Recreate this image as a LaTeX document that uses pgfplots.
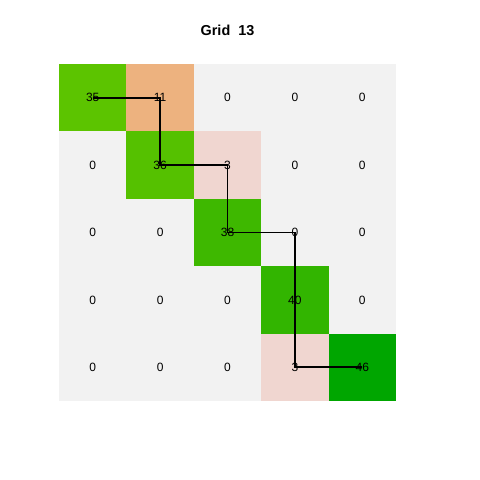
\documentclass[border=0pt]{standalone}
\usepackage{pgfplots}
\pgfplotsset{compat=1.18}
\usepackage{fontspec}
\setmainfont{Liberation Sans}
\definecolor{cz}{HTML}{F2F2F2}
\definecolor{ca}{HTML}{5CC400}
\definecolor{cb}{HTML}{EDB27F}
\definecolor{cc}{HTML}{55C100}
\definecolor{cd}{HTML}{F0D6D0}
\definecolor{ce}{HTML}{3EB800}
\definecolor{cf}{HTML}{32B500}
\definecolor{cg}{HTML}{00A600}
\begin{document}
\begin{tikzpicture}
\begin{axis}[width=480bp,height=480bp,scale only axis,hide axis,
  xmin=0,xmax=480,ymin=0,ymax=480,y dir=reverse,clip=false]
\path[fill=white] (axis cs:0,0) rectangle (axis cs:480,480);
% background (zero cells)
\addplot[fill=cz,draw=none] coordinates {(59,64) (396,64) (396,401) (59,401)} -- cycle;
% nonzero cells
\addplot[fill=ca,draw=none] coordinates {(59,64) (126.4,64) (126.4,131.4) (59,131.4)} -- cycle;
\addplot[fill=cb,draw=none] coordinates {(126.4,64) (193.8,64) (193.8,131.4) (126.4,131.4)} -- cycle;
\addplot[fill=cc,draw=none] coordinates {(126.4,131.4) (193.8,131.4) (193.8,198.8) (126.4,198.8)} -- cycle;
\addplot[fill=cd,draw=none] coordinates {(193.8,131.4) (261.2,131.4) (261.2,198.8) (193.8,198.8)} -- cycle;
\addplot[fill=ce,draw=none] coordinates {(193.8,198.8) (261.2,198.8) (261.2,266.2) (193.8,266.2)} -- cycle;
\addplot[fill=cf,draw=none] coordinates {(261.2,266.2) (328.6,266.2) (328.6,333.6) (261.2,333.6)} -- cycle;
\addplot[fill=cd,draw=none] coordinates {(261.2,333.6) (328.6,333.6) (328.6,401) (261.2,401)} -- cycle;
\addplot[fill=cg,draw=none] coordinates {(328.6,333.6) (396,333.6) (396,401) (328.6,401)} -- cycle;
% path
\addplot[black,line width=1.8bp] coordinates {(92.7,97.7) (160.1,97.7) (160.1,165.1) (227.5,165.1) (227.5,232.5) (294.9,232.5) (294.9,367.3) (362.3,367.3)};
% labels
\addplot[only marks,mark=none,nodes near coords,point meta=explicit symbolic,
  every node near coord/.append style={anchor=center,inner sep=0pt,font=\fontsize{12bp}{13bp}\selectfont}]
  table[meta=l] {
x y l
92.7 97.7 35
160.1 97.7 11
227.5 97.7 0
294.9 97.7 0
362.3 97.7 0
92.7 165.1 0
160.1 165.1 36
227.5 165.1 3
294.9 165.1 0
362.3 165.1 0
92.7 232.5 0
160.1 232.5 0
227.5 232.5 38
294.9 232.5 0
362.3 232.5 0
92.7 299.9 0
160.1 299.9 0
227.5 299.9 0
294.9 299.9 40
362.3 299.9 0
92.7 367.3 0
160.1 367.3 0
227.5 367.3 0
294.9 367.3 3
362.3 367.3 46
};
\node[font=\bfseries\fontsize{14.4bp}{15bp}\selectfont] at (axis cs:227.5,30) {Grid\ \ 13};
\end{axis}
\end{tikzpicture}
\end{document}
